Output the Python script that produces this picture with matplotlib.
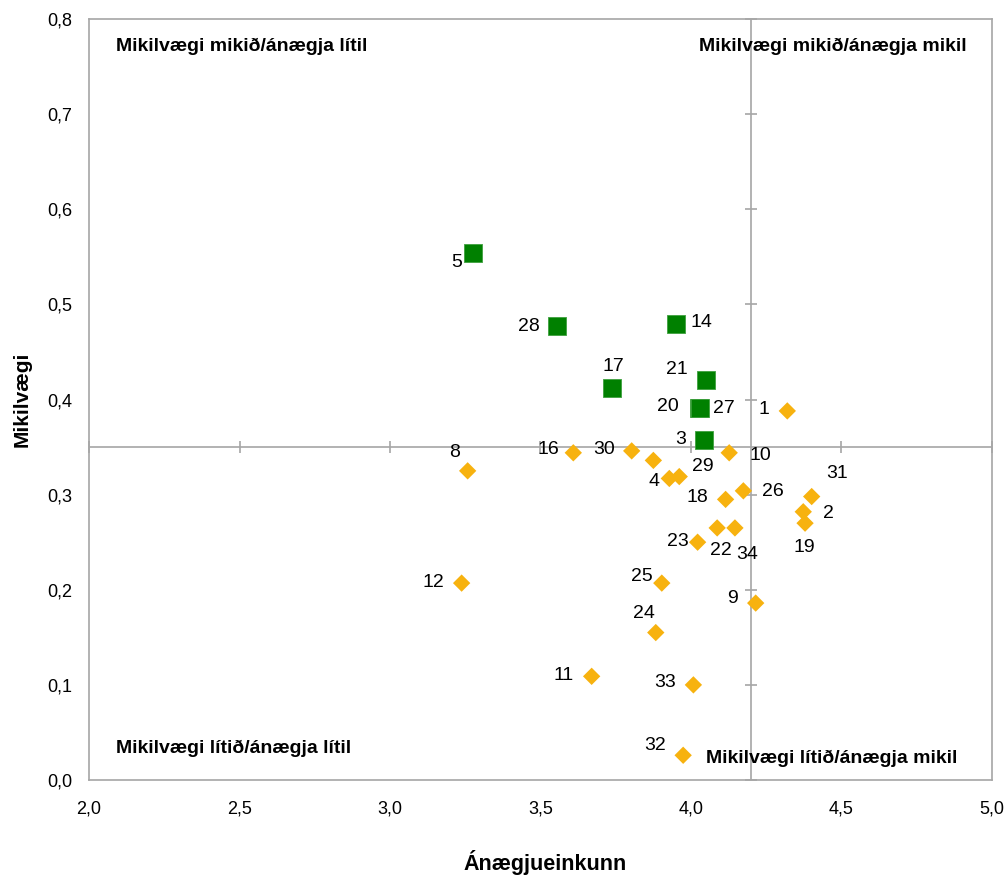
import matplotlib
matplotlib.use("Agg")
import matplotlib.pyplot as plt

plt.rcParams['font.family'] = ['Liberation Sans', 'DejaVu Sans']

# green squares (mikilvægi mikið)
sq_labels = ["5", "28", "14", "17", "21", "20", "27", "3"]
sq_x = [3.277, 3.556, 3.950, 3.736, 4.049, 4.028, 4.030, 4.042]
sq_y = [0.554, 0.477, 0.479, 0.412, 0.420, 0.391, 0.391, 0.357]

# orange diamonds
di_labels = ["1", "16", "30", "", "4", "29", "10", "8", "18", "26", "31", "2", "19",
             "22", "34", "23", "12", "25", "9", "24", "11", "33", "32"]
di_x = [4.320, 3.609, 3.803, 3.875, 3.928, 3.961, 4.127, 3.258, 4.115, 4.174, 4.401, 4.373, 4.379,
        4.087, 4.146, 4.022, 3.238, 3.903, 4.215, 3.883, 3.670, 4.008, 3.974]
di_y = [0.388, 0.344, 0.346, 0.336, 0.317, 0.319, 0.344, 0.325, 0.295, 0.304, 0.298, 0.282, 0.270,
        0.265, 0.265, 0.250, 0.207, 0.207, 0.186, 0.155, 0.109, 0.100, 0.026]

mean_x = 4.2
mean_y = 0.35

# label offsets in pixels (dx, dy) - placement only
sq_off = [(-17, -9), (-28, 0), (26, 2), (2, 22), (-29, 11), (-32, 2), (24, 0), (-23, 1)]
di_off = [(-23, 1), (-25, 3), (-28, 1), (0, 0), (-15, -3), (24, 10), (31, -3), (-13, 18), (-28, 2),
          (30, -1), (25, 23), (25, -2), (-1, -24), (4, -23), (12, -27), (-20, 1), (-28, 1), (-20, 7),
          (-23, 5), (-12, 19), (-28, 1), (-28, 2), (-28, 10)]

fig = plt.figure(figsize=(10.08, 8.77), dpi=100)
ax = fig.add_axes([0.0883, 0.1106, 0.8958, 0.8677])

xticks = [2.0, 2.5, 3.0, 3.5, 4.0, 4.5, 5.0]
yticks = [0.0, 0.1, 0.2, 0.3, 0.4, 0.5, 0.6, 0.7, 0.8]

# crosshair at the means
ax.axvline(mean_x, color='#A6A6A6', lw=1.2, zorder=1)
ax.axhline(mean_y, color='#A6A6A6', lw=1.2, zorder=1)
ax.plot([mean_x] * len(yticks), yticks, ls='none', marker='_', ms=8, mew=1.2, color='#A6A6A6', zorder=1, clip_on=False)
ax.plot(xticks, [mean_y] * len(xticks), ls='none', marker='|', ms=8, mew=1.2, color='#A6A6A6', zorder=1, clip_on=False)

ax.scatter(sq_x, sq_y, marker='s', s=165, color='#008000', edgecolors='#3FA03F', linewidths=0.6, zorder=3)
ax.scatter(di_x, di_y, marker='D', s=78, color='#F7B20F', edgecolors='none', zorder=3)

for lab, x, y, off in zip(sq_labels, sq_x, sq_y, sq_off):
    ax.annotate(lab, (x, y), xytext=off, textcoords='offset pixels', ha='center', va='center', fontsize=14)
for lab, x, y, off in zip(di_labels, di_x, di_y, di_off):
    if lab:
        ax.annotate(lab, (x, y), xytext=off, textcoords='offset pixels', ha='center', va='center', fontsize=14)

# quadrant names
qfont = dict(fontsize=14, fontweight='bold', transform=ax.transAxes, va='center')
ax.text(0.030, 0.9645, "Mikilvægi mikið/ánægja lítil", ha='left', **qfont)
ax.text(0.972, 0.9645, "Mikilvægi mikið/ánægja mikil", ha='right', **qfont)
ax.text(0.030, 0.042, "Mikilvægi lítið/ánægja lítil", ha='left', **qfont)
ax.text(0.962, 0.029, "Mikilvægi lítið/ánægja mikil", ha='right', **qfont)

ax.set_xlim(2.0, 5.0)
ax.set_ylim(0.0, 0.8)
ax.set_xticks(xticks)
ax.set_yticks(yticks)
ax.set_xticklabels([f"{v:.1f}".replace('.', ',') for v in xticks], fontsize=13)
ax.set_yticklabels([f"{v:.1f}".replace('.', ',') for v in yticks], fontsize=13)
ax.tick_params(axis='y', length=0, pad=12)
ax.tick_params(axis='x', length=0, pad=15)
for s in ax.spines.values():
    s.set_color('#A6A6A6')
    s.set_linewidth(1.2)

ax.set_xlabel("Ánægjueinkunn", fontsize=15.5, fontweight='bold', va='center')
ax.xaxis.set_label_coords(0.505, -0.1078)
ax.set_ylabel("Mikilvægi", fontsize=15, fontweight='bold', va='center')
ax.yaxis.set_label_coords(-0.0742, 0.5)

fig.savefig("out.png", dpi=100)
